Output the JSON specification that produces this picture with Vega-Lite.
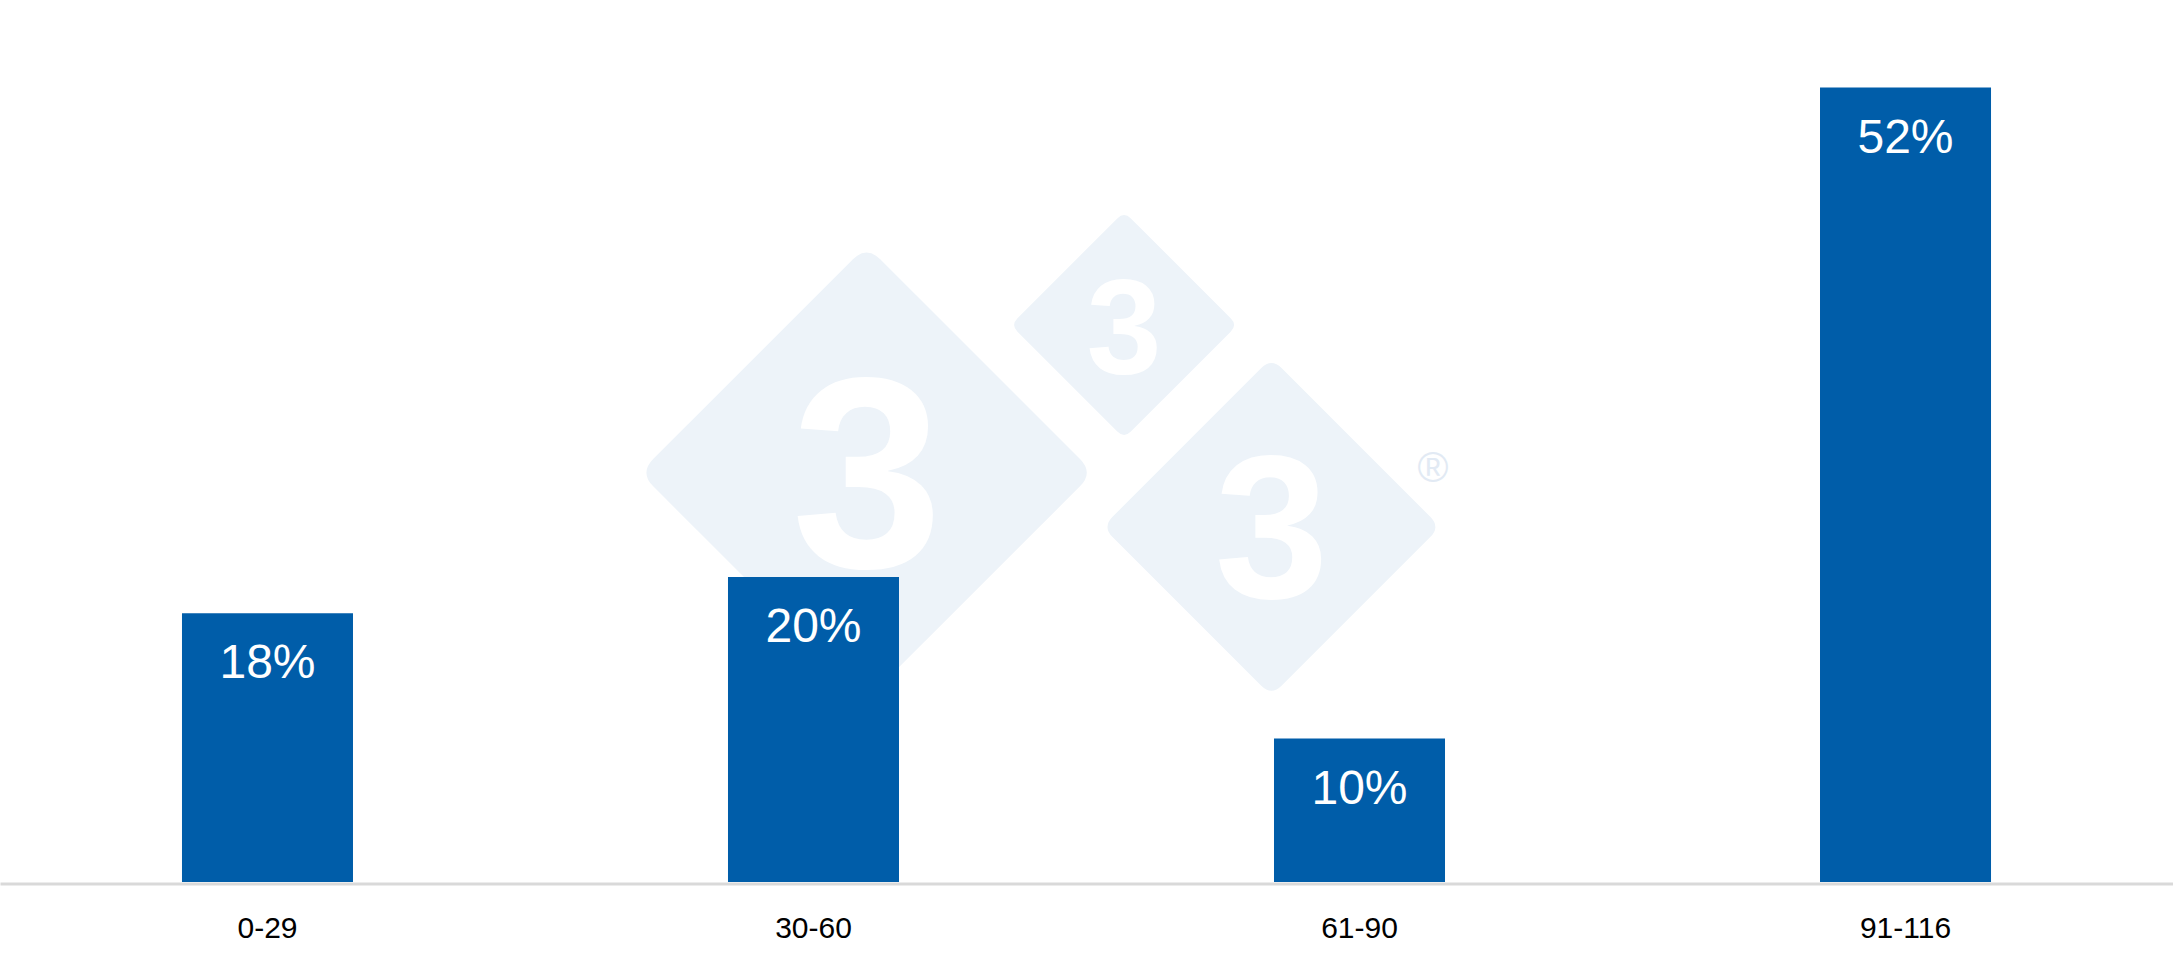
{
  "$schema": "https://vega.github.io/schema/vega-lite/v6.json",
  "width": 2173,
  "height": 882,
  "autosize": {"type": "none"},
  "padding": {"left": 0, "top": 0, "right": 0, "bottom": 76},
  "background": "white",
  "config": {"view": {"stroke": null}, "font": "Liberation Sans"},
  "datasets": {
    "bars": [
      {"range": "0-29", "share": 17.8, "label": "18%"},
      {"range": "30-60", "share": 20.2, "label": "20%"},
      {"range": "61-90", "share": 9.5, "label": "10%"},
      {"range": "91-116", "share": 52.6, "label": "52%"}
    ],
    "logo": [
      {"part": "diamondBig", "px": 39.88, "py": 27.1},
      {"part": "diamondSmall", "px": 51.73, "py": 36.88},
      {"part": "diamondMid", "px": 58.51, "py": 23.51},
      {"part": "digitBig", "px": 39.9, "py": 20.86, "glyph": "3"},
      {"part": "digitSmall", "px": 51.73, "py": 33.7, "glyph": "3"},
      {"part": "digitMid", "px": 58.51, "py": 18.8, "glyph": "3"},
      {"part": "reg", "px": 65.95, "py": 27.35, "glyph": "®"}
    ]
  },
  "resolve": {"scale": {"x": "independent"}, "axis": {"x": "independent"}},
  "layer": [
    {
      "data": {"name": "logo"},
      "transform": [{"filter": "datum.part === 'diamondBig'"}],
      "mark": {"type": "point", "filled": true, "opacity": 1, "color": "#edf3f9", "strokeWidth": 0, "size": 206116,
        "shape": "M -0.06 -0.94 Q 0 -1 0.06 -0.94 L 0.94 -0.06 Q 1 0 0.94 0.06 L 0.06 0.94 Q 0 1 -0.06 0.94 L -0.94 0.06 Q -1 0 -0.94 -0.06 Z"},
      "encoding": {
        "x": {"field": "px", "type": "quantitative", "scale": {"domain": [0, 100]}, "axis": null},
        "y": {"field": "py", "type": "quantitative", "scale": {"domain": [0, 58.4], "nice": false}, "axis": null}
      }
    },
    {
      "data": {"name": "logo"},
      "transform": [{"filter": "datum.part === 'diamondSmall'"}],
      "mark": {"type": "point", "filled": true, "opacity": 1, "color": "#edf3f9", "strokeWidth": 0, "size": 51438,
        "shape": "M -0.06 -0.94 Q 0 -1 0.06 -0.94 L 0.94 -0.06 Q 1 0 0.94 0.06 L 0.06 0.94 Q 0 1 -0.06 0.94 L -0.94 0.06 Q -1 0 -0.94 -0.06 Z"},
      "encoding": {
        "x": {"field": "px", "type": "quantitative", "scale": {"domain": [0, 100]}, "axis": null},
        "y": {"field": "py", "type": "quantitative", "scale": {"domain": [0, 58.4], "nice": false}, "axis": null}
      }
    },
    {
      "data": {"name": "logo"},
      "transform": [{"filter": "datum.part === 'diamondMid'"}],
      "mark": {"type": "point", "filled": true, "opacity": 1, "color": "#edf3f9", "strokeWidth": 0, "size": 114244,
        "shape": "M -0.06 -0.94 Q 0 -1 0.06 -0.94 L 0.94 -0.06 Q 1 0 0.94 0.06 L 0.06 0.94 Q 0 1 -0.06 0.94 L -0.94 0.06 Q -1 0 -0.94 -0.06 Z"},
      "encoding": {
        "x": {"field": "px", "type": "quantitative", "scale": {"domain": [0, 100]}, "axis": null},
        "y": {"field": "py", "type": "quantitative", "scale": {"domain": [0, 58.4], "nice": false}, "axis": null}
      }
    },
    {
      "data": {"name": "logo"},
      "transform": [{"filter": "datum.part === 'digitBig'"}],
      "mark": {"type": "text", "color": "#ffffff", "font": "Liberation Sans", "fontWeight": "bold", "fontSize": 272, "align": "center", "baseline": "alphabetic"},
      "encoding": {
        "x": {"field": "px", "type": "quantitative", "scale": {"domain": [0, 100]}, "axis": null},
        "y": {"field": "py", "type": "quantitative", "scale": {"domain": [0, 58.4], "nice": false}, "axis": null},
        "text": {"field": "glyph"}
      }
    },
    {
      "data": {"name": "logo"},
      "transform": [{"filter": "datum.part === 'digitSmall'"}],
      "mark": {"type": "text", "color": "#ffffff", "font": "Liberation Sans", "fontWeight": "bold", "fontSize": 135, "align": "center", "baseline": "alphabetic"},
      "encoding": {
        "x": {"field": "px", "type": "quantitative", "scale": {"domain": [0, 100]}, "axis": null},
        "y": {"field": "py", "type": "quantitative", "scale": {"domain": [0, 58.4], "nice": false}, "axis": null},
        "text": {"field": "glyph"}
      }
    },
    {
      "data": {"name": "logo"},
      "transform": [{"filter": "datum.part === 'digitMid'"}],
      "mark": {"type": "text", "color": "#ffffff", "font": "Liberation Sans", "fontWeight": "bold", "fontSize": 205, "align": "center", "baseline": "alphabetic"},
      "encoding": {
        "x": {"field": "px", "type": "quantitative", "scale": {"domain": [0, 100]}, "axis": null},
        "y": {"field": "py", "type": "quantitative", "scale": {"domain": [0, 58.4], "nice": false}, "axis": null},
        "text": {"field": "glyph"}
      }
    },
    {
      "data": {"name": "logo"},
      "transform": [{"filter": "datum.part === 'reg'"}],
      "mark": {"type": "text", "color": "#e2eaf4", "font": "Liberation Sans", "fontSize": 42, "align": "center", "baseline": "middle"},
      "encoding": {
        "x": {"field": "px", "type": "quantitative", "scale": {"domain": [0, 100]}, "axis": null},
        "y": {"field": "py", "type": "quantitative", "scale": {"domain": [0, 58.4], "nice": false}, "axis": null},
        "text": {"field": "glyph"}
      }
    },
    {
      "data": {"name": "bars"},
      "encoding": {
        "x": {
          "field": "range", "type": "nominal", "sort": null,
          "scale": {"paddingInner": 0.6868, "paddingOuter": 0.3333},
          "axis": {
            "title": null, "labelAngle": 0, "ticks": false, "tickSize": 0, "grid": false,
            "domainColor": "#d9d9d9", "domainWidth": 3, "offset": 1.5,
            "labelFont": "Liberation Sans", "labelFontSize": 30, "labelColor": "#000000",
            "labelBaseline": "alphabetic", "labelPadding": 53.5
          }
        },
        "y": {"field": "share", "type": "quantitative", "scale": {"domain": [0, 58.4], "nice": false}, "axis": null}
      },
      "layer": [
        {"mark": {"type": "bar", "color": "#005da9"}},
        {
          "mark": {"type": "text", "color": "#ffffff", "font": "Liberation Sans", "fontSize": 48, "align": "center", "baseline": "alphabetic", "dy": 65},
          "encoding": {"text": {"field": "label"}}
        }
      ]
    }
  ]
}
